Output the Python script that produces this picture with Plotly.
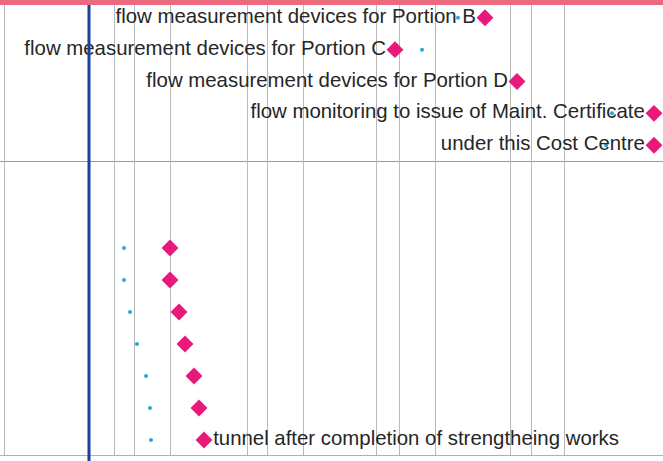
import plotly.graph_objects as go

# ---- data (timeline in days from chart origin) ----
top_labels = [
    "flow measurement devices for Portion B",
    "flow measurement devices for Portion C",
    "flow measurement devices for Portion D",
    "flow monitoring to issue of Maint. Certificate",
    "under this Cost Centre",
]
top_rows = [0, 1, 2, 3, 4]
top_finish = [485, 395, 517, 654, 654]
top_baseline = [458, 422, None, 612, 606]

bottom_labels = ["", "", "", "", "", "", "tunnel after completion of strengtheing works"]
bottom_rows = [0, 1, 2, 3, 4, 5, 6]
bottom_finish = [170, 170, 179, 185, 194, 199, 204]
bottom_baseline = [124, 124, 130, 137, 146, 150, 151]

grid_days = [4, 114, 134, 170, 247, 267, 303, 376, 399, 435, 510, 531, 564]
status_day = 89

PINK = "#e8197a"
DOT = "#2ea3d8"
FONT = dict(family="Liberation Sans, Arial", size=20.4, color="#262626")

fig = go.Figure()

# top section
fig.add_trace(go.Scatter(x=top_baseline, y=top_rows, mode="markers",
                         marker=dict(symbol="circle", size=4, color=DOT),
                         xaxis="x", yaxis="y", hoverinfo="skip", showlegend=False))
fig.add_trace(go.Scatter(x=top_finish, y=top_rows, mode="markers+text",
                         text=top_labels, textposition="middle left",
                         textfont=FONT,
                         marker=dict(symbol="diamond", size=13, color=PINK),
                         xaxis="x", yaxis="y", showlegend=False, cliponaxis=False))

# bottom section
fig.add_trace(go.Scatter(x=bottom_baseline, y=bottom_rows, mode="markers",
                         marker=dict(symbol="circle", size=4, color=DOT),
                         xaxis="x2", yaxis="y2", hoverinfo="skip", showlegend=False))
fig.add_trace(go.Scatter(x=bottom_finish, y=bottom_rows, mode="markers+text",
                         text=bottom_labels, textposition="middle right",
                         textfont=FONT,
                         marker=dict(symbol="diamond", size=13, color=PINK),
                         xaxis="x2", yaxis="y2", showlegend=False, cliponaxis=False))

H = 455.0
split = 1 - 161 / H
xr = [0, 663]
gridc = "#bababa"

fig.update_layout(
    width=663, height=461,
    margin=dict(l=0, r=0, t=0, b=6),
    paper_bgcolor="white", plot_bgcolor="white",
    xaxis=dict(domain=[0, 1], range=xr, anchor="y", tickmode="array", tickvals=grid_days,
               showgrid=True, gridcolor=gridc, gridwidth=1, showticklabels=False,
               ticks="", zeroline=False, showline=True, linecolor="#9a9a9a", linewidth=1),
    yaxis=dict(domain=[split, 1], range=[(161 - 16) / 32.25, -18 / 32.25], anchor="x",
               showgrid=False, showticklabels=False, zeroline=False, ticks=""),
    xaxis2=dict(domain=[0, 1], range=xr, anchor="y2", matches="x", tickmode="array",
                tickvals=grid_days, showgrid=True, gridcolor=gridc, gridwidth=1,
                showticklabels=False, ticks="", zeroline=False, showline=True,
                linecolor="#b0b0b0", linewidth=1),
    yaxis2=dict(domain=[0, split], range=[(455 - 248) / 32, (161 - 248) / 32], anchor="x2",
                showgrid=False, showticklabels=False, zeroline=False, ticks=""),
    shapes=[
        dict(type="line", xref="x", yref="paper", x0=status_day, x1=status_day,
             y0=-6 / H, y1=1 - 4 / H, line=dict(color="#1d3f9e", width=3), layer="above"),
        dict(type="rect", xref="paper", yref="paper", x0=0, x1=1, y0=1 - 5 / H, y1=1,
             fillcolor="#ec6a7e", line=dict(width=0), layer="above"),
    ],
)

fig.write_html("out.html", config={"displayModeBar": False},
               post_script="document.body.style.margin='0';")
